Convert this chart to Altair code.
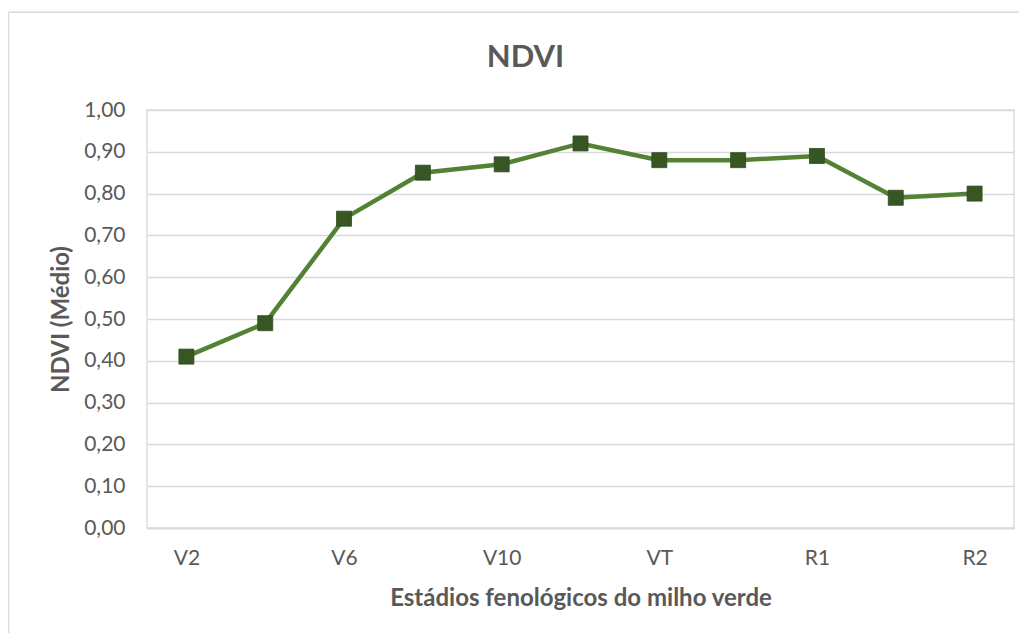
import altair as alt
import pandas as pd

# Data
stages = ["V2", "V4", "V6", "V8", "V10", "V12", "VT", "VT+", "R1", "R1+", "R2"]
ndvi = [0.41, 0.49, 0.74, 0.85, 0.87, 0.92, 0.88, 0.88, 0.89, 0.79, 0.80]
shown_labels = ["V2", "V6", "V10", "VT", "R1", "R2"]
y_ticks = [0.0, 0.1, 0.2, 0.3, 0.4, 0.5, 0.6, 0.7, 0.8, 0.9, 1.0]

df = pd.DataFrame({"stage": stages, "ndvi": ndvi})

W, H = 867, 418
FONT = "Lato"
GRAY = "#595959"

x_enc = alt.X(
    "stage:N",
    sort=stages,
    scale=alt.Scale(paddingInner=0, paddingOuter=0),
    axis=alt.Axis(
        values=shown_labels,
        title="Estádios fenológicos do milho verde",
        labelAngle=0,
        ticks=False,
        labelPadding=19,
        labelFont=FONT,
        labelFontSize=21,
        labelColor=GRAY,
        domainColor="#d9d9d9",
        domainWidth=1.5,
        titleFont=FONT,
        titleFontSize=24,
        titleFontWeight="bold",
        titleColor=GRAY,
        titleBaseline="alphabetic",
        titleY=77,
        titleX=W / 2,
        titleAlign="center",
    ),
)
y_enc = alt.Y(
    "ndvi:Q",
    scale=alt.Scale(domain=[0, 1], nice=False),
    axis=alt.Axis(
        values=y_ticks,
        labelExpr="replace(format(datum.value, '.2f'), '.', ',')",
        title="NDVI (Médio)",
        ticks=False,
        domain=False,
        labelPadding=22,
        labelFont=FONT,
        labelFontSize=21,
        labelColor=GRAY,
        grid=True,
        gridColor="#d9d9d9",
        gridWidth=1.4,
        titleFont=FONT,
        titleFontSize=24,
        titleFontWeight="bold",
        titleColor=GRAY,
        titleAngle=-90,
        titleBaseline="alphabetic",
        titleAlign="center",
        titleX=-79,
        titleY=H / 2,
    ),
)

base = alt.Chart(df)
line = base.mark_line(color="#548235", strokeWidth=4.5).encode(x=x_enc, y=y_enc)
points = base.mark_point(
    shape="square", filled=True, size=225, color="#375623", opacity=1,
    stroke="#2f4b1e", strokeWidth=0.8
).encode(x=x_enc, y=y_enc)

one = alt.Data(values=[{}])
frame_left = alt.Chart(one).mark_rule(color="#d9d9d9", strokeWidth=1.5).encode(
    x=alt.value(-138.5), y=alt.value(-97.7), y2=alt.value(H + 110)
)
frame_top = alt.Chart(one).mark_rule(color="#d9d9d9", strokeWidth=1.5).encode(
    x=alt.value(-138.5), x2=alt.value(W + 10), y=alt.value(-97.7)
)
title = alt.Chart(one).mark_text(
    text="NDVI", font=FONT, fontSize=31, fontWeight="bold", color=GRAY,
    align="center", baseline="alphabetic"
).encode(x=alt.value(378.5), y=alt.value(-43))

chart = (
    alt.layer(frame_left, frame_top, title, line, points)
    .properties(
        width=W,
        height=H,
        autosize=alt.AutoSizeParams(type="none"),
        padding={"left": 139, "top": 102, "right": 5, "bottom": 105},
        background="white",
    )
    .configure_view(stroke="#d6dff0", strokeWidth=1.5)
)

chart.save("out.html", embed_options={"renderer": "svg", "actions": False})
